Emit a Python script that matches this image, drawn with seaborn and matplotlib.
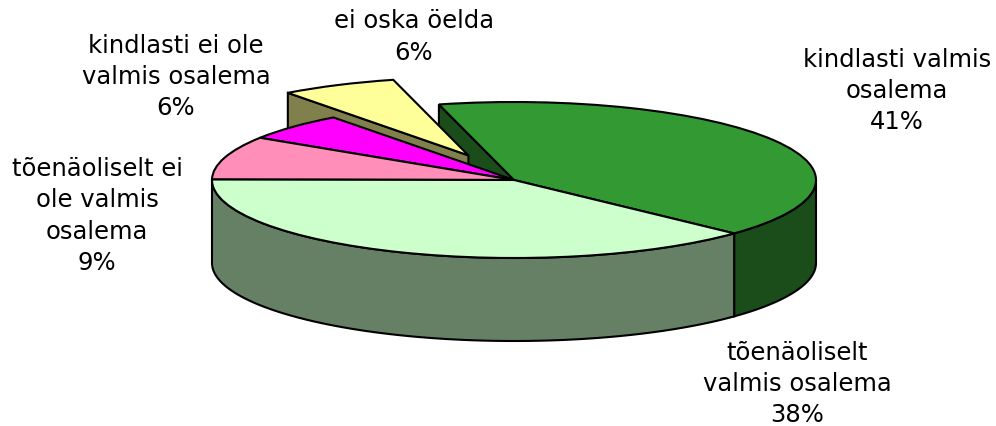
import numpy as np
import matplotlib
matplotlib.use('Agg')
import matplotlib.pyplot as plt
import seaborn as sns

# Shares, counter-clockwise from the front right edge
labels = ['kindlasti valmis\nosalema', 'ei oska öelda', 'kindlasti ei ole\nvalmis osalema',
          'tõenäoliselt ei\nole valmis\nosalema', 'tõenäoliselt\nvalmis osalema']
shares = [41, 6.2, 5.7, 9, 38.1]
explode = [0, 0.35, 0, 0, 0]
top_colors = ['#339933', '#FFFF99', '#FF00FF', '#FF8FB8', '#CCFFCC']
wall_colors = ['#1A4D1A', '#80804D', '#800080', '#80475C', '#668066']
label_pos = [(897, 91), (414, 37), (176, 77), (97, 216), (797, 384)]

sns.set_theme(style='white')
plt.rcParams['font.family'] = ['DejaVu Sans']

W, H = 996, 426
cx, cy, rx, ry, depth_px = 514, 180, 302, 78, 83
start = 316.8
depth = depth_px / ry

fig = plt.figure(figsize=(W / 100, H / 100), dpi=100)
ax = fig.add_axes([0, 0, 1, 1])
wedges, _ = ax.pie(shares, colors=top_colors, explode=explode, startangle=start, counterclock=True,
                   wedgeprops={'edgecolor': 'black', 'linewidth': 1.5})
ax.set_aspect('auto')
ax.set_xlim(-cx / rx, (W - cx) / rx)
ax.set_ylim((cy - H) / ry, cy / ry)

edges = start + np.cumsum([0] + shares) * 3.6


def side_face(angle, off, color, z):
    # flat cut face of a slice, going down from the top edge
    a = np.radians(angle)
    ox, oy = off
    xs = [ox, ox + np.cos(a), ox + np.cos(a), ox]
    ys = [oy, oy + np.sin(a), oy + np.sin(a) - depth, oy - depth]
    ax.fill(xs, ys, facecolor=color, edgecolor='black', linewidth=1.5, zorder=z)


def rim(a0, a1, color, z):
    # curved outer wall between two angles
    t = np.radians(np.linspace(a0, a1, 120))
    xs = np.r_[np.cos(t), np.cos(t[::-1])]
    ys = np.r_[np.sin(t), np.sin(t[::-1]) - depth]
    ax.fill(xs, ys, facecolor=color, edgecolor='black', linewidth=1.5, zorder=z)


# back to front
mid = np.radians((edges[1] + edges[2]) / 2)
yellow_off = (explode[1] * np.cos(mid), explode[1] * np.sin(mid))
side_face(edges[1], (0, 0), wall_colors[0], 1)
side_face(edges[2], yellow_off, wall_colors[1], 2)
wedges[1].set_zorder(3)
rim(edges[0], 360, wall_colors[0], 4)
rim(180, edges[0], wall_colors[4], 4)
for i in [0, 2, 3, 4]:
    wedges[i].set_zorder(5)

for lab, share, (x, y) in zip(labels, shares, label_pos):
    fig.text(x / W, 1 - y / H, f'{lab}\n{share:.0f}%', ha='center', va='center',
             fontsize=17.5, color='black', linespacing=1.39)

fig.savefig('out.png', dpi=100)
plt.close()
